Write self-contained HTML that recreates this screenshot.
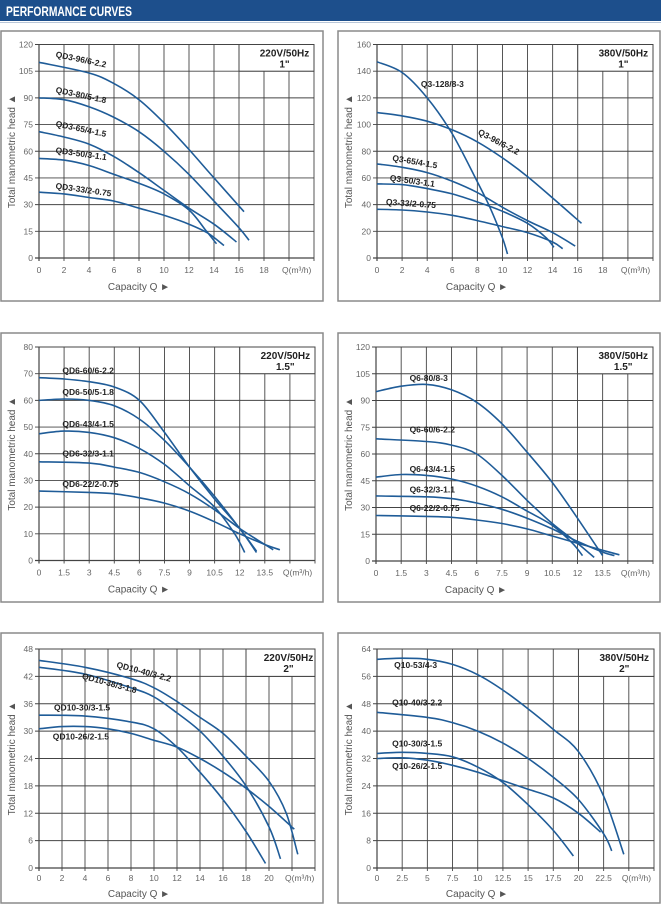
<!DOCTYPE html>
<html><head><meta charset="utf-8"><style>
body{margin:0;background:#fff;width:661px;height:904px;overflow:hidden;font-family:"Liberation Sans",sans-serif}
</style></head><body>
<svg id="s" width="661" height="904" xmlns="http://www.w3.org/2000/svg" font-family="Liberation Sans, sans-serif">
<rect x="0" y="0" width="661" height="21" fill="#1d4f8c"/>
<text x="6" y="16" fill="#fff" font-weight="bold" font-size="14" textLength="126" lengthAdjust="spacingAndGlyphs">PERFORMANCE CURVES</text>
<line x1="0" y1="22.5" x2="661" y2="22.5" stroke="#b8c6d8" stroke-width="1"/>
</svg>
<script>
const S=document.getElementById('s');const NS='http://www.w3.org/2000/svg';
function el(t,a,txt){const e=document.createElementNS(NS,t);for(const k in a)e.setAttribute(k,a[k]);if(txt!==undefined)e.textContent=txt;S.appendChild(e);return e;}
function cr(p){let d='M'+p[0][0].toFixed(1)+','+p[0][1].toFixed(1);for(let i=0;i<p.length-1;i++){const p0=p[i-1]||p[i],p1=p[i],p2=p[i+1],p3=p[i+2]||p2;const c1=[p1[0]+(p2[0]-p0[0])/6,p1[1]+(p2[1]-p0[1])/6],c2=[p2[0]-(p3[0]-p1[0])/6,p2[1]-(p3[1]-p1[1])/6];d+=' C'+c1.map(v=>v.toFixed(1))+' '+c2.map(v=>v.toFixed(1))+' '+p2[0].toFixed(1)+','+p2[1].toFixed(1);}return d;}
function chart(c){
 const [bx,by,bw,bh]=c.box;
 el('rect',{x:bx,y:by,width:bw,height:bh,fill:'none',stroke:'#8a8a8a','stroke-width':1.5});
 const x0=c.x0,y0=c.y0,W=c.W,H=c.H,cols=c.cols,rows=8,cw=W/cols,rh=H/rows;
 const bxL=x0+cw*(cols-3);
 for(let i=0;i<=cols;i++){const x=x0+i*cw;el('line',{x1:x,y1:(i>cols-3&&i<cols)?y0+rh:y0,x2:x,y2:y0+H+3,stroke:'#444','stroke-width':i==0?1.2:0.9});}
 for(let j=0;j<=rows;j++){const y=y0+j*rh;el('line',{x1:x0-4,y1:y,x2:x0+W,y2:y,stroke:'#444','stroke-width':j==rows?1.2:0.9});}
 el('rect',{x:bxL,y:y0,width:W-cw*(cols-3),height:rh,fill:'#fff',stroke:'#444','stroke-width':1});
 const cx=bxL+(W-cw*(cols-3))/2+c.boxdx;
 el('text',{x:cx,y:y0+12,'text-anchor':'middle','font-size':10,'font-weight':'bold',fill:'#222'},c.t1);
 el('text',{x:cx,y:y0+23,'text-anchor':'middle','font-size':10,'font-weight':'bold',fill:'#222'},c.t2);
 c.yt.forEach((v,j)=>{el('text',{x:x0-6,y:y0+H-j*rh+3,'text-anchor':'end','font-size':8.5,fill:'#666'},v);});
 c.xt.forEach((v,i)=>{el('text',{x:x0+i*cw,y:y0+H+c.tl,'text-anchor':'middle','font-size':8.5,fill:'#666'},v);});
 el('text',{x:x0+c.xt.length*cw-7,y:y0+H+c.tl,'font-size':8.5,fill:'#666'},'Q(m³/h)');
 el('text',{x:x0+100,y:y0+H+c.cl,'text-anchor':'middle','font-size':10,fill:'#555'},'Capacity Q  \u25BA');
 const ly=y0+H/2;el('text',{x:0,y:0,transform:`translate(${bx+14},${ly}) rotate(-90)`,'text-anchor':'middle','font-size':10,fill:'#555'},'Total manometric head  \u25B2');
 const kx=cw/c.xs, ky=H/c.ymax;
 const P=(q,h)=>[x0+q*kx,y0+H-h*ky];
 c.curves.forEach(cv=>{el('path',{d:cr(cv.map(p=>P(p[0],p[1]))),fill:'none',stroke:'#1f5c98','stroke-width':1.6});});
 c.labels.forEach(l=>{const p=P(l[1],l[2]);el('text',{x:p[0],y:p[1],transform:`rotate(${l[3]||0} ${p[0]} ${p[1]})`,'font-size':8.5,'font-weight':'bold',fill:'#222'},l[0]);});
}
chart({box:[1,31,322,270],x0:39,y0:44.5,W:275,H:213.5,cols:11,xs:2,ymax:120,t1:'220V/50Hz',t2:'1"',boxdx:8,cl:32,tl:15,
 yt:['0','15','30','45','60','75','90','105','120'],xt:['0','2','4','6','8','10','12','14','16','18'],
 curves:[[[0,110],[4,104],[6,98],[8,89],[10,76],[12,61],[14,45],[16.4,26]],
 [[0,90],[2,89],[4,85],[6,79],[8,71],[10,60],[12,47],[14,32],[16,17],[16.8,10]],
 [[0,71],[2,68],[4,64],[6,57],[8,48],[10,38],[12,28],[14,19],[15.8,9]],
 [[0,56],[2,55],[4,52],[6,47],[8,42],[10,36],[12,27],[13.4,15],[14.2,8]],
 [[0,37],[2,36],[4,34],[6,32],[8,28],[10,24],[12,19],[13.5,14],[14.8,7]]],
 labels:[['QD3-96/6-2.2',1.3,113,12],['QD3-80/5-1.8',1.3,93,12],['QD3-65/4-1.5',1.3,74,12],['QD3-50/3-1.1',1.3,59,8],['QD3-33/2-0.75',1.3,39,8]]});
chart({box:[338,31,322,270],x0:377,y0:44.5,W:276,H:213.5,cols:11,xs:2,ymax:160,t1:'380V/50Hz',t2:'1"',boxdx:8,cl:32,tl:15,
 yt:['0','20','40','60','80','100','120','140','160'],xt:['0','2','4','6','8','10','12','14','16','18'],
 curves:[[[0,147],[2,139],[4,120],[6,93],[8,57],[9,38],[10,15],[10.4,3]],
 [[0,109],[2,106.5],[4,102.5],[6,96],[8,87],[10,75],[12,61],[14,45],[16.3,26]],
 [[0,70.5],[2,68],[4,64],[6,57.5],[8,49],[10,38],[12,28],[14,19],[15.8,9]],
 [[0,55.5],[2,55],[4,52],[6,48],[8,42],[10,35],[12,26],[13.5,15],[14.1,8]],
 [[0,36.5],[2,36],[4,34.5],[6,32],[8,28],[10,23.5],[12,19],[14,12],[14.8,7]]],
 labels:[['Q3-128/8-3',3.5,128,0],['Q3-96/6-2.2',8,93,28],['Q3-65/4-1.5',1.2,73,10],['Q3-50/3-1.1',1,58,8],['Q3-33/2-0.75',0.7,40,4]]});
chart({box:[1,333,322,269],x0:39,y0:347,W:276,H:213.5,cols:11,xs:1.5,ymax:80,t1:'220V/50Hz',t2:'1.5"',boxdx:8,cl:32,tl:15,
 yt:['0','10','20','30','40','50','60','70','80'],xt:['0','1.5','3','4.5','6','7.5','9','10.5','12','13.5'],
 curves:[[[0,68.5],[1.5,68],[3,67],[4.5,65],[6,60],[7.5,48],[9,35],[10.5,23],[12,12],[13,3]],
 [[0,60],[1.5,60.5],[3,60],[4.5,58],[6,53],[7.5,45],[9,35],[10.5,24],[12,12],[13,3.5]],
 [[0,47.5],[1.5,48.5],[3,48],[4.5,46],[6,42],[7.5,36],[9,28],[10.5,20],[11.7,10],[12.3,3]],
 [[0,37],[3,36.5],[4.5,35],[6,33],[7.5,29.5],[9,25],[10.5,19],[12,12],[13.5,6],[14,4]],
 [[0,26],[3,25.5],[4.5,25],[6,23.5],[7.5,21.5],[9,18.5],[10.5,14.5],[12,10],[13.5,6],[14.4,4]]],
 labels:[['QD6-60/6-2.2',1.4,70,0],['QD6-50/5-1.8',1.4,62,0],['QD6-43/4-1.5',1.4,50,0],['QD6-32/3-1.1',1.4,39,0],['QD6-22/2-0.75',1.4,27.5,0]]});
chart({box:[338,333,322,269],x0:376,y0:347,W:277,H:214,cols:11,xs:1.5,ymax:120,t1:'380V/50Hz',t2:'1.5"',boxdx:8,cl:32,tl:15,
 yt:['0','15','30','45','60','75','90','105','120'],xt:['0','1.5','3','4.5','6','7.5','9','10.5','12','13.5'],
 curves:[[[0,95],[1.5,98],[3,99],[4.5,96],[6,89],[7.5,77],[9,61],[10.5,44],[12,24],[13.5,3]],
 [[0,68.5],[3,67],[4.5,65],[6,60],[7.5,48],[9,34],[10.5,21],[12,10],[13,2]],
 [[0,47],[1.5,48.5],[3,48],[4.5,46],[6,42],[7.5,36],[9,28],[10.5,20],[11.7,10],[12.3,3]],
 [[0,36.5],[3,36],[4.5,35],[6,32.5],[7.5,29],[9,24],[10.5,18],[12,11],[13.5,5],[14.2,3]],
 [[0,25.5],[3,25],[4.5,24.5],[6,23],[7.5,21],[9,18],[10.5,14],[12,10],[13.5,6],[14.5,3.5]]],
 labels:[['Q6-80/8-3',2,101,0],['Q6-60/6-2.2',2,72,0],['Q6-43/4-1.5',2,50,0],['Q6-32/3-1.1',2,38.5,0],['Q6-22/2-0.75',2,28,0]]});
chart({box:[1,633,322,270],x0:39,y0:649,W:276,H:219,cols:12,xs:2,ymax:48,t1:'220V/50Hz',t2:'2"',boxdx:8,cl:29,tl:13,
 yt:['0','6','12','18','24','30','36','42','48'],xt:['0','2','4','6','8','10','12','14','16','18','20'],
 curves:[[[0,45.5],[4,44],[8,41.5],[10,39.5],[12,36.5],[14,33],[16,29.5],[18,24.5],[20,19],[21.5,12],[22.5,3]],
 [[0,44],[4,42.5],[8,39.5],[10,37.5],[12,34],[14,30],[16,24.5],[18,18],[20,9],[21,2]],
 [[0,33.5],[4,33.3],[8,32],[10,30.5],[12,26.5],[14,21],[16,15],[18,8],[19.7,1]],
 [[0,30.5],[2,31],[4,31],[6,30.5],[8,29.5],[10,28],[12,26.5],[14,24],[16,21],[18,17.5],[20,13.5],[22.2,8.5]]],
 labels:[['QD10-40/3-2.2',6.7,44,15],['QD10-38/3-1.8',3.7,41.5,15],['QD10-30/3-1.5',1.3,34.5,0],['QD10-26/2-1.5',1.2,28.2,0]]});
chart({box:[338,633,322,270],x0:377,y0:649,W:277,H:219,cols:11,xs:2.5,ymax:64,t1:'380V/50Hz',t2:'2"',boxdx:8,cl:29,tl:13,
 yt:['0','8','16','24','32','40','48','56','64'],xt:['0','2.5','5','7.5','10','12.5','15','17.5','20','22.5'],
 curves:[[[0,61],[2.5,61.3],[5,61],[7.5,59.5],[10,56.5],[12.5,52],[15,46.5],[17.5,40.5],[20,34],[22.5,21],[24.5,4]],
 [[0,45.5],[5,44],[7.5,42.5],[10,40],[12.5,36.5],[15,32],[17.5,26.5],[20,20],[22.5,10],[23.3,5]],
 [[0,33.5],[2.5,33.8],[5,33.5],[7.5,32.5],[10,29.5],[12.5,25],[15,18.5],[17.5,11],[19.5,3.5]],
 [[0,32],[2.5,32.2],[5,31.5],[7.5,30],[10,28],[12.5,25.5],[15,23],[17.5,20.5],[20,16],[22.2,10.5]]],
 labels:[['Q10-53/4-3',1.7,58.5,0],['Q10-40/3-2.2',1.5,47.5,0],['Q10-30/3-1.5',1.5,35.5,0],['Q10-26/2-1.5',1.5,29,0]]});
</script>
</body></html>
